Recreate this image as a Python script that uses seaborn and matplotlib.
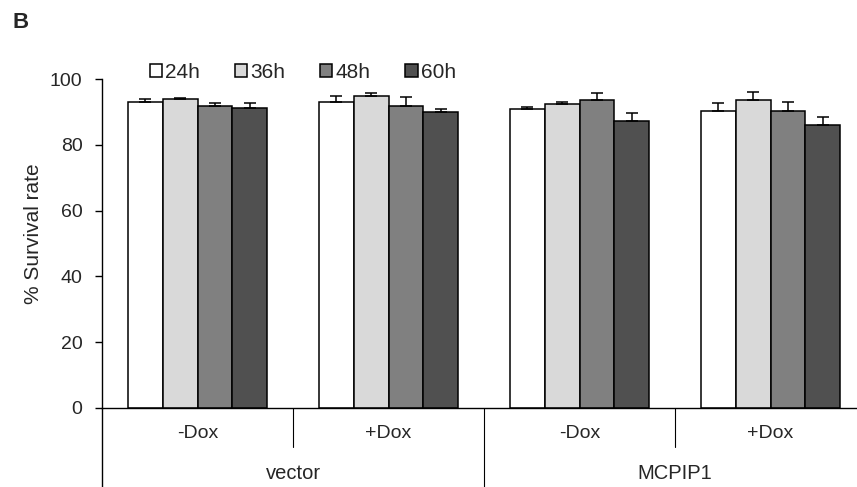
import numpy as np
import pandas as pd
import seaborn as sns
import matplotlib.pyplot as plt

sns.set_style("ticks")
plt.rcParams["font.family"] = ["Liberation Sans", "DejaVu Sans"]

groups = ["vector -Dox", "vector +Dox", "MCPIP1 -Dox", "MCPIP1 +Dox"]
dox_labels = ["-Dox", "+Dox", "-Dox", "+Dox"]
cell_labels = ["vector", "MCPIP1"]
times = ["24h", "36h", "48h", "60h"]

# mean survival (%) per time, in group order
surv_24 = [93.1, 93.0, 90.8, 90.4]
surv_36 = [93.8, 94.9, 92.4, 93.6]
surv_48 = [91.9, 91.7, 93.5, 90.4]
surv_60 = [91.1, 90.0, 87.3, 86.0]
# upper error
err_24 = [0.7, 1.8, 0.8, 2.4]
err_36 = [0.5, 0.9, 0.7, 2.6]
err_48 = [0.8, 2.8, 2.1, 2.5]
err_60 = [1.5, 0.9, 2.4, 2.4]

means = [surv_24, surv_36, surv_48, surv_60]
errs = [err_24, err_36, err_48, err_60]
colors = ["#ffffff", "#d9d9d9", "#808080", "#505050"]

df = pd.DataFrame({
    "group": np.tile(groups, len(times)),
    "time": np.repeat(times, len(groups)),
    "value": np.concatenate(means),
})

fig = plt.figure(figsize=(8.57, 4.87), dpi=100)
ax = fig.add_axes([102 / 857, 1 - 408 / 487, 764 / 857, 329 / 487])

sns.barplot(data=df, x="group", y="value", hue="time", order=groups, hue_order=times,
            palette=colors, edgecolor="black", linewidth=1.1, width=0.73, ax=ax,
            errorbar=None, saturation=1)

bar_conts = list(ax.containers)
for cont, e in zip(bar_conts, errs):
    xs = [p.get_x() + p.get_width() / 2 for p in cont.patches]
    hs = [p.get_height() for p in cont.patches]
    ax.errorbar(xs, hs, yerr=[np.zeros(len(e)), e], fmt="none", ecolor="black",
                elinewidth=1.1, capsize=4.3, capthick=1.1, zorder=3)

ax.set_xlim(-0.5, 3.5)
ax.set_ylim(0, 100)
ax.set_yticks([0, 20, 40, 60, 80, 100])
ax.tick_params(axis="y", labelsize=14, length=5, width=1, color="black", pad=9)
ax.set_xticks([])
ax.set_xlabel("")
ax.set_ylabel("% Survival rate", fontsize=15)
ax.yaxis.set_label_coords(-0.077, 0.529)
sns.despine(ax=ax)
for s in ["left", "bottom"]:
    ax.spines[s].set_color("black")
    ax.spines[s].set_linewidth(1)

trans = ax.get_xaxis_transform()
ax.plot([-0.5, -0.5], [0, -0.25], color="black", lw=1, transform=trans, clip_on=False)
for x in [0.5, 2.5]:
    ax.plot([x, x], [0, -0.119], color="black", lw=0.8, transform=trans, clip_on=False)
ax.plot([1.5, 1.5], [0, -0.25], color="black", lw=0.8, transform=trans, clip_on=False)
for i, lab in enumerate(dox_labels):
    ax.text(i, -0.079, lab, transform=trans, ha="center", va="center", fontsize=14)
for i, lab in enumerate(cell_labels):
    ax.text(0.5 + 2 * i, -0.198, lab, transform=trans, ha="center", va="center", fontsize=14.5)

leg = ax.get_legend()
if leg is not None:
    leg.remove()
fig.legend([c.patches[0] for c in bar_conts], times, ncol=4, frameon=False,
           loc="center left", bbox_to_anchor=(0.175, 0.852), fontsize=15,
           handlelength=0.58, handleheight=0.58, handletextpad=0.15, columnspacing=1.68,
           borderaxespad=0, borderpad=0)

fig.text(12 / 857, 1 - 22 / 487, "B", fontsize=16, fontweight="bold", va="center")

fig.savefig("out.png", dpi=100)
